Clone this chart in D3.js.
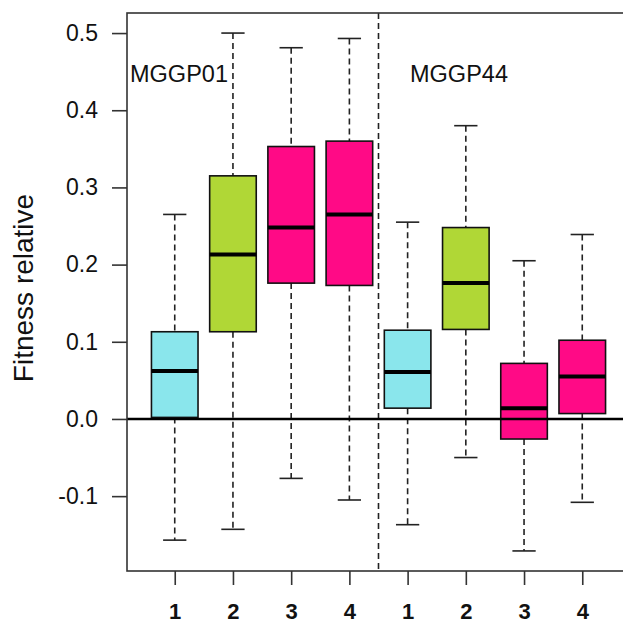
<!DOCTYPE html>
<html>
<head>
<meta charset="utf-8">
<script src="https://cdn.jsdelivr.net/npm/d3@7"></script>
<style>
html,body{margin:0;padding:0;background:#fff;}
svg{display:block;}
text{font-family:"Liberation Sans",Arial,Helvetica,sans-serif;}
</style>
</head>
<body>
<svg id="chart" width="623" height="623"></svg>
<script>
// ---- data ----
const groups = ["MGGP01", "MGGP44"];
const categories = ["1", "2", "3", "4", "1", "2", "3", "4"];
const positions = [1, 2, 3, 4, 5, 6, 7, 8];
const whiskerLow  = [-0.157, -0.143, -0.077, -0.105, -0.137, -0.050, -0.171, -0.108];
const q1          = [ 0.002,  0.113,  0.176,  0.173,  0.014,  0.116, -0.026,  0.007];
const median      = [ 0.062,  0.213,  0.248,  0.265,  0.061,  0.176,  0.014,  0.055];
const q3          = [ 0.113,  0.315,  0.353,  0.360,  0.115,  0.248,  0.072,  0.102];
const whiskerHigh = [ 0.265,  0.500,  0.481,  0.493,  0.255,  0.380,  0.205,  0.239];
const yTicks = [-0.1, 0.0, 0.1, 0.2, 0.3, 0.4, 0.5];
const catColors = {"1": "#8AE6EC", "2": "#B0D736", "3": "#FF0A86", "4": "#FF0A86"};

// ---- layout ----
const svg = d3.select("#chart");
const pLeft = 127, pRight = 630, pTop = 13, pBottom = 571;
const x = d3.scaleLinear().domain([0.18, 8.82]).range([pLeft, pRight]);
const y = d3.scaleLinear().domain([-0.197, 0.526]).range([pBottom, pTop]);
const unit = x(2) - x(1);
const boxW = 0.8 * unit, capW = 0.4 * unit;
const font = '"Liberation Sans",Arial,Helvetica,sans-serif';

const data = positions.map((p, i) => ({
  pos: p, cat: categories[i], lo: whiskerLow[i], q1: q1[i], med: median[i], q3: q3[i], hi: whiskerHigh[i]
}));

// whiskers (dashed)
const g = svg.append("g");
data.forEach(d => {
  const cx = x(d.pos);
  g.append("line").attr("x1", cx).attr("x2", cx).attr("y1", y(d.hi)).attr("y2", y(d.q3))
    .attr("stroke", "#222").attr("stroke-width", 1.6).attr("stroke-dasharray", "6,4");
  g.append("line").attr("x1", cx).attr("x2", cx).attr("y1", y(d.q1)).attr("y2", y(d.lo))
    .attr("stroke", "#222").attr("stroke-width", 1.6).attr("stroke-dasharray", "6,4");
  g.append("line").attr("x1", cx - capW / 2).attr("x2", cx + capW / 2).attr("y1", y(d.hi)).attr("y2", y(d.hi))
    .attr("stroke", "#222").attr("stroke-width", 1.6);
  g.append("line").attr("x1", cx - capW / 2).attr("x2", cx + capW / 2).attr("y1", y(d.lo)).attr("y2", y(d.lo))
    .attr("stroke", "#222").attr("stroke-width", 1.6);
});

// divider between groups
svg.append("line").attr("x1", x(4.5)).attr("x2", x(4.5)).attr("y1", pTop).attr("y2", pBottom)
  .attr("stroke", "#222").attr("stroke-width", 1.6).attr("stroke-dasharray", "6,4");

// boxes
data.forEach(d => {
  const cx = x(d.pos);
  g.append("rect").attr("x", cx - boxW / 2).attr("width", boxW)
    .attr("y", y(d.q3)).attr("height", y(d.q1) - y(d.q3))
    .attr("fill", catColors[d.cat]).attr("stroke", "#111").attr("stroke-width", 1.6);
});

// zero line
svg.append("line").attr("x1", pLeft).attr("x2", pRight).attr("y1", y(0)).attr("y2", y(0))
  .attr("stroke", "#000").attr("stroke-width", 2.5);

// medians
data.forEach(d => {
  const cx = x(d.pos);
  svg.append("line").attr("x1", cx - boxW / 2).attr("x2", cx + boxW / 2).attr("y1", y(d.med)).attr("y2", y(d.med))
    .attr("stroke", "#000").attr("stroke-width", 4);
});

// frame
svg.append("rect").attr("x", pLeft).attr("y", pTop).attr("width", pRight - pLeft).attr("height", pBottom - pTop)
  .attr("fill", "none").attr("stroke", "#333").attr("stroke-width", 1.6);

// y axis
const yAxis = d3.axisLeft(y).tickValues(yTicks).tickSize(15).tickPadding(14)
  .tickFormat(v => v.toFixed(1).replace("\u2212", "-"));
const ya = svg.append("g").attr("transform", `translate(${pLeft},0)`).call(yAxis);
ya.select(".domain").remove();
ya.selectAll(".tick line").attr("stroke", "#333").attr("stroke-width", 1.6);
ya.selectAll(".tick text").attr("font-size", 23).attr("font-family", font).attr("fill", "#111");

// x axis
const xAxis = d3.axisBottom(x).tickValues(positions).tickSize(14).tickPadding(18)
  .tickFormat((v, i) => categories[i]);
const xa = svg.append("g").attr("transform", `translate(0,${pBottom})`).call(xAxis);
xa.select(".domain").remove();
xa.selectAll(".tick line").attr("stroke", "#333").attr("stroke-width", 1.6);
xa.selectAll(".tick text").attr("font-size", 22).attr("font-weight", "bold").attr("font-family", font).attr("fill", "#111");

// y label
svg.append("text").attr("transform", `translate(33,${(pTop + pBottom) / 2 - 4}) rotate(-90)`)
  .attr("text-anchor", "middle").attr("font-size", 28).attr("fill", "#111").text("Fitness relative");

// group labels
svg.append("text").attr("x", 130).attr("y", 82).attr("font-size", 23.5).attr("fill", "#111").text(groups[0]);
svg.append("text").attr("x", 410).attr("y", 82).attr("font-size", 23.5).attr("fill", "#111").text(groups[1]);
</script>
</body>
</html>
